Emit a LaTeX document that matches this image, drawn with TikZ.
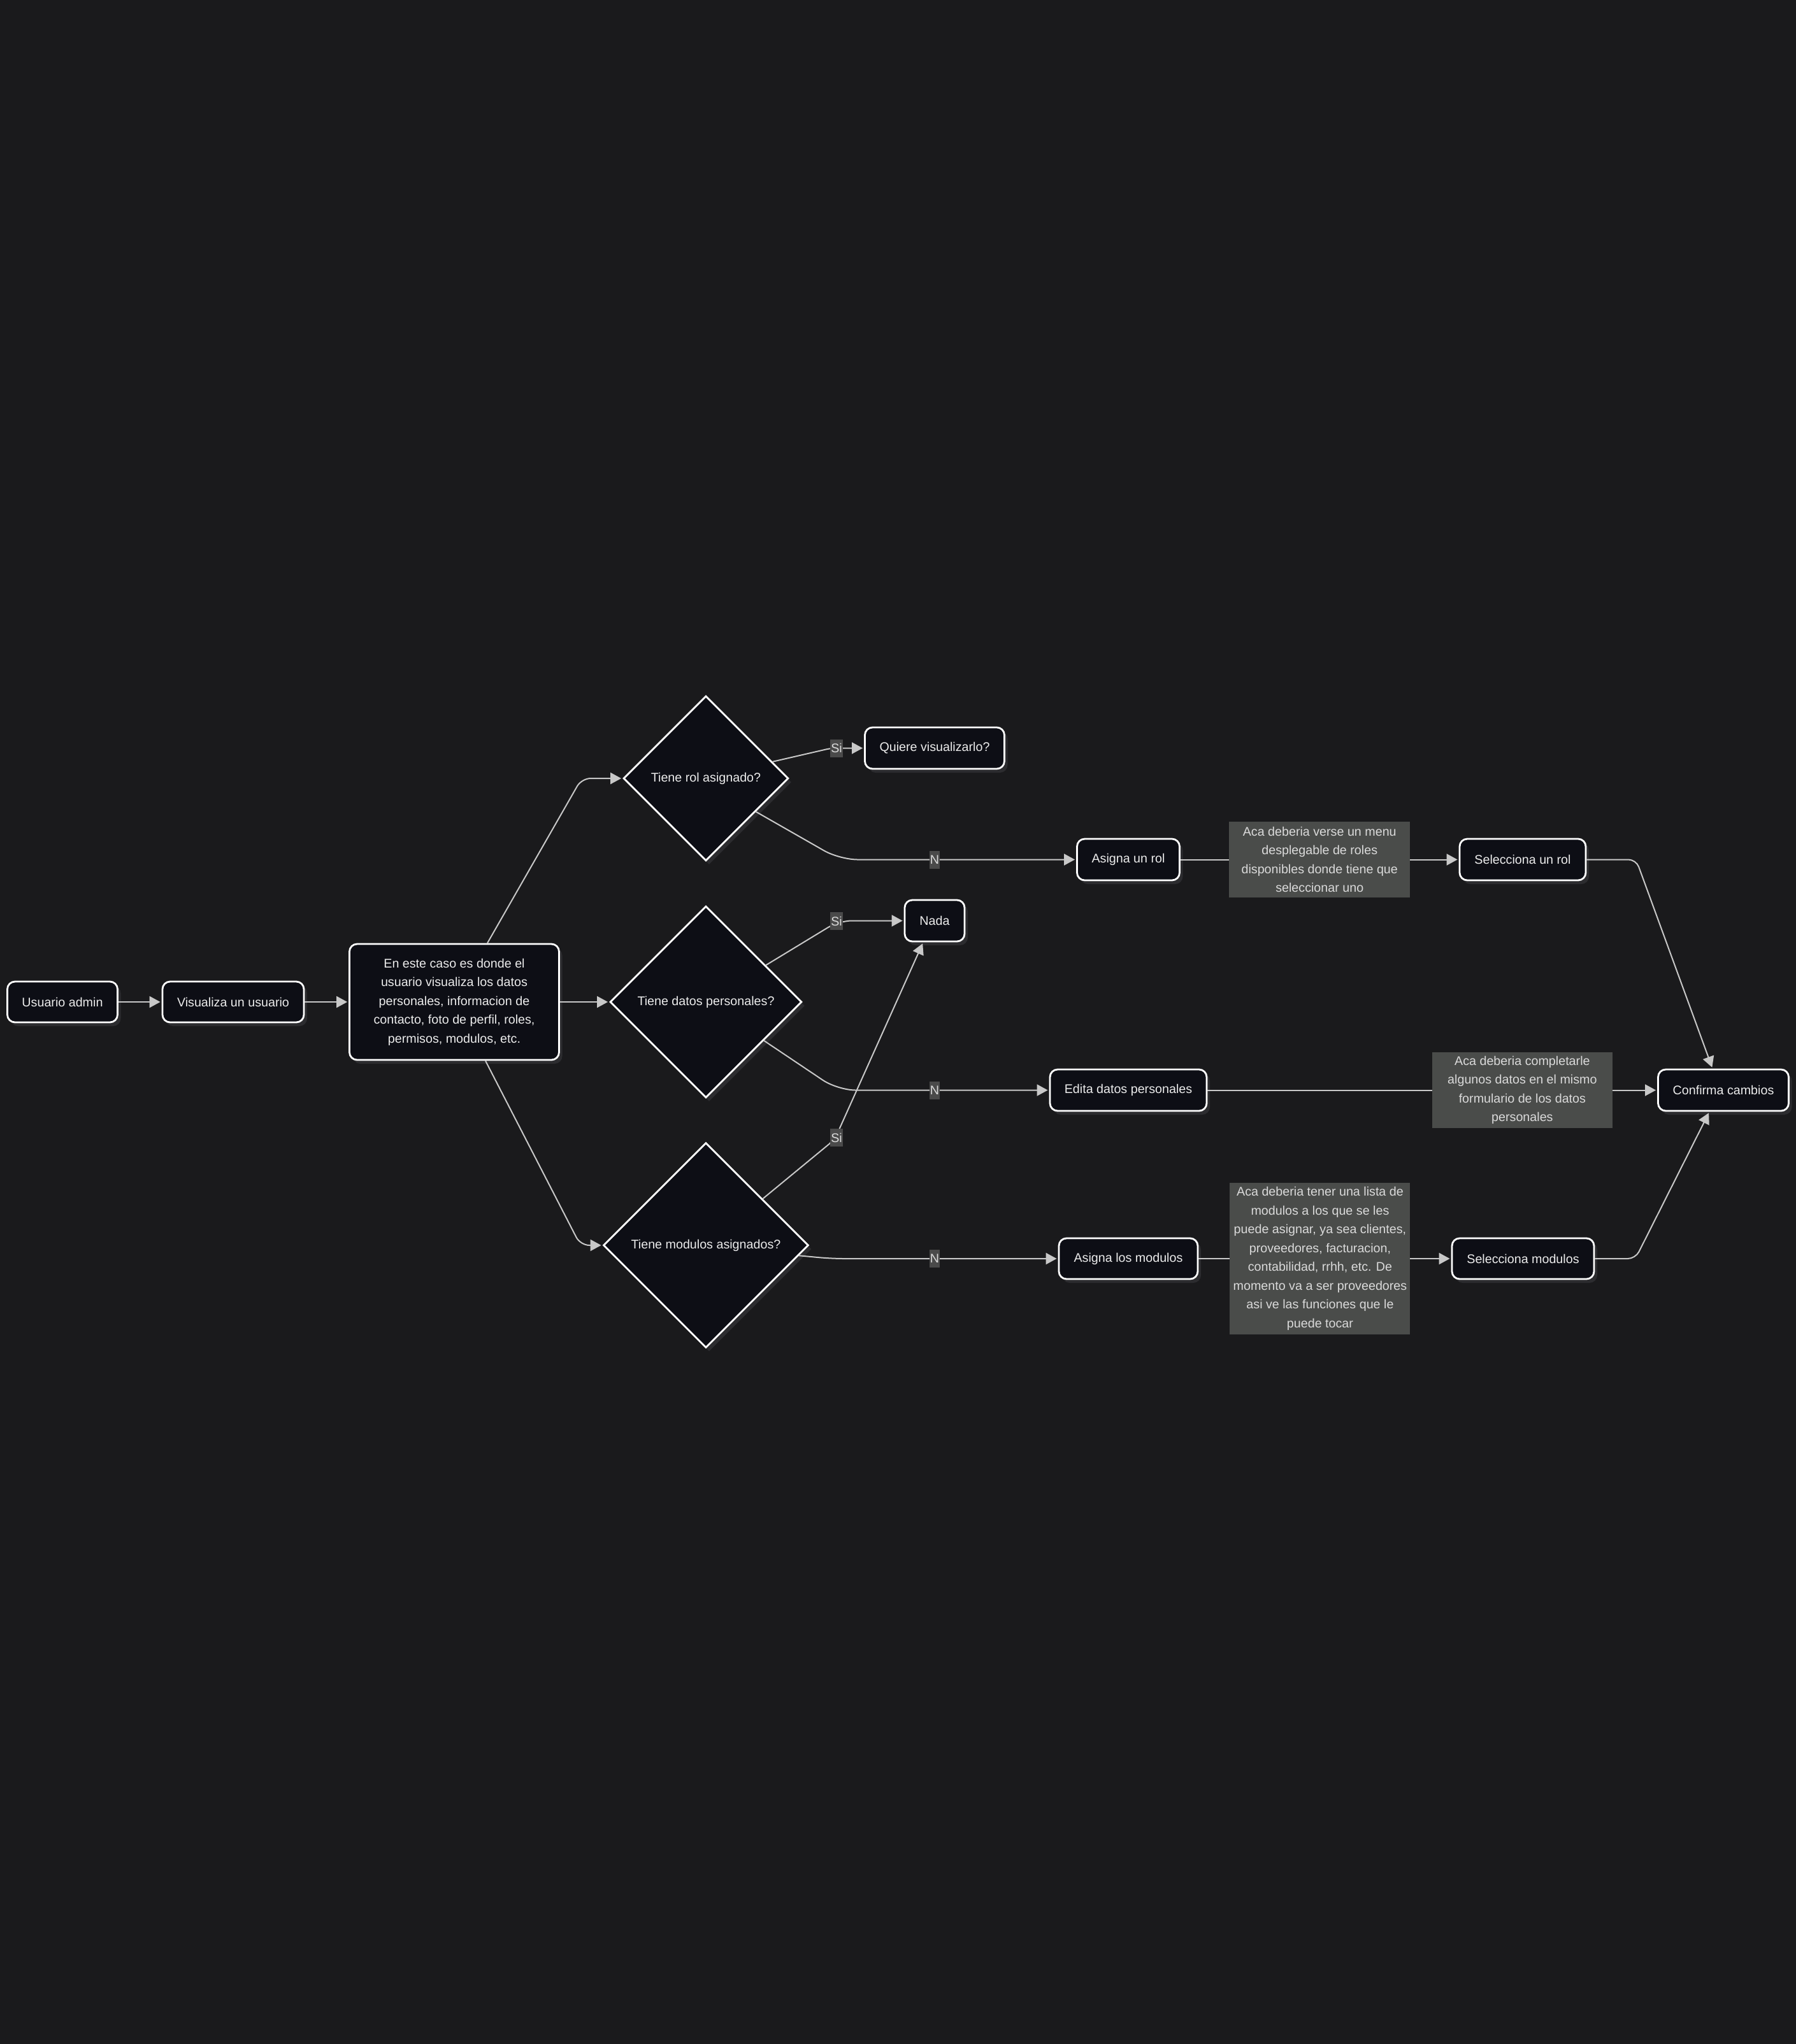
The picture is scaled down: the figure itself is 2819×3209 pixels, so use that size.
\documentclass[tikz,border=0pt]{standalone}
\usepackage{fontspec}
\setmainfont{Liberation Sans}
\usetikzlibrary{shapes.geometric,arrows.meta,shadows,calc}
\definecolor{bgc}{RGB}{26,26,28}
\definecolor{nodefill}{RGB}{13,14,21}
\definecolor{nodetext}{RGB}{236,236,236}
\definecolor{notetext}{RGB}{218,218,218}
\definecolor{edgec}{RGB}{200,200,200}
\definecolor{lblfill}{RGB}{74,74,74}
\definecolor{notefill}{RGB}{74,76,74}
\definecolor{shadowc}{RGB}{44,44,47}
\newcommand\myfont{\fontsize{9.85pt}{14.75pt}\selectfont}
\begin{document}
\begin{tikzpicture}[x=0.5pt,y=-0.5pt,
  box/.style={draw=white, line width=1.4pt, fill=nodefill, rounded corners=6pt, inner sep=0pt,
    align=center, text=nodetext, font=\myfont,
    general shadow={fill=shadowc, shadow xshift=2.5pt, shadow yshift=-3pt}},
  dec/.style={diamond, aspect=1, draw=white, line width=1.4pt, fill=nodefill, inner sep=0pt,
    align=center, text=nodetext, font=\myfont,
    general shadow={fill=shadowc, shadow xshift=2.5pt, shadow yshift=-3pt}},
  note/.style={fill=notefill, inner sep=0pt, align=center, text=notetext, font=\myfont},
  lbl/.style={fill=lblfill, inner xsep=0.4pt, inner ysep=0pt, minimum height=14pt, text=notetext, font=\myfont},
  conn/.style={draw=edgec, line width=1pt, -{Triangle[length=8.5pt,width=9pt]}, shorten >=1pt}
]
\useasboundingbox (0,0) rectangle (2819,3209);
\fill[bgc] (0,0) rectangle (2819,3209);

% nodes
\node[box, minimum width=86.5pt, minimum height=32pt] (ua) at (98,1573) {Usuario admin};
\node[box, minimum width=111pt, minimum height=32pt] (vu) at (366,1573) {Visualiza un usuario};
\node[box, minimum width=164.5pt, minimum height=91pt] (big) at (713,1573)
  {En este caso es donde el\\usuario visualiza los datos\\personales, informacion de\\contacto, foto de perfil, roles,\\permisos, modulos, etc.};
\node[dec, minimum width=129.5pt, minimum height=129.5pt] (d1) at (1108,1222) {Tiene rol asignado?};
\node[dec, minimum width=150.5pt, minimum height=150.5pt] (d2) at (1108,1573) {Tiene datos personales?};
\node[dec, minimum width=161pt, minimum height=161pt] (d3) at (1108,1955) {Tiene modulos asignados?};
\node[box, minimum width=109.5pt, minimum height=32.5pt] (qv) at (1467,1174.5) {Quiere visualizarlo?};
\node[box, minimum width=47pt, minimum height=32.5pt] (nada) at (1467,1445.5) {Nada};
\node[box, minimum width=80.5pt, minimum height=32.5pt] (ar) at (1771,1349.5) {Asigna un rol};
\node[box, minimum width=99pt, minimum height=32.5pt] (sr) at (2390,1349.5) {Selecciona un rol};
\node[box, minimum width=123pt, minimum height=32.5pt] (ed) at (1771,1711.5) {Edita datos personales};
\node[box, minimum width=102.5pt, minimum height=32.5pt] (cc) at (2705,1711.5) {Confirma cambios};
\node[box, minimum width=109pt, minimum height=32pt] (am) at (1771,1976) {Asigna los modulos};
\node[box, minimum width=111.5pt, minimum height=32pt] (sm) at (2390.5,1976) {Selecciona modulos};

% bend points
\coordinate (c1) at (913,1222);
\coordinate (c2) at (911,1955);
\coordinate (c3) at (1305,1174.5);
\coordinate (c4) at (1318,1349.5);
\coordinate (c5) at (1317,1445.5);
\coordinate (c6) at (1315,1711.5);
\coordinate (c7) at (1310,1789);
\coordinate (c8) at (1305,1976);
\coordinate (c9) at (2568,1349.5);
\coordinate (c10) at (2567,1976);

% connectors
\draw[conn] (ua) -- (vu);
\draw[conn] (vu) -- (big);
\draw[conn] (big) -- (d2);
\draw[conn, rounded corners=7pt] ($(big.north)+(52,0)$) -- (c1) -- (d1.west);
\draw[conn, rounded corners=7pt] ($(big.south)+(49,0)$) -- (c2) -- (d3.west);
\draw[conn, rounded corners=4pt] ($(d1.east)!0.2!(d1.north)$) -- (c3) -- (qv.west);
\draw[conn, rounded corners=14pt] ($(d1.east)!0.4!(d1.south)$) -- (c4) -- (ar.west);
\draw[conn, rounded corners=10pt] ($(d2.east)!0.38!(d2.north)$) -- (c5) -- (nada.west);
\draw[conn, rounded corners=14pt] ($(d2.east)!0.4!(d2.south)$) -- (c6) -- (ed.west);
\draw[conn, rounded corners=6pt] ($(d3.east)!0.45!(d3.north)$) -- (c7) -- ($(nada.south)+(-18,0)$);
\draw[conn, rounded corners=10pt] ($(d3.east)!0.1!(d3.south)$) -- (c8) -- (am.west);
\draw[conn] (ar) -- node[note, minimum width=142pt, minimum height=59.5pt] (n1)
  {Aca deberia verse un menu\\desplegable de roles\\disponibles donde tiene que\\seleccionar uno} (sr);
\draw[conn] (ed) -- node[note, pos=0.70, minimum width=141.5pt, minimum height=59.5pt] (n2)
  {Aca deberia completarle\\algunos datos en el mismo\\formulario de los datos\\personales} (cc);
\draw[conn] (am) -- node[note, pos=0.481, minimum width=141.5pt, minimum height=119pt] (n3)
  {Aca deberia tener una lista de\\modulos a los que se les\\puede asignar, ya sea clientes,\\proveedores, facturacion,\\contabilidad, rrhh, etc. De\\momento va a ser proveedores\\asi ve las funciones que le\\puede tocar} (sm);
\draw[conn, rounded corners=6pt] (sr.east) -- (c9) -- ($(cc.north)+(-17,0)$);
\draw[conn, rounded corners=6pt] (sm.east) -- (c10) -- ($(cc.south)+(-22,0)$);

% edge labels
\node[lbl] (l1) at (1313,1174.5) {Si};
\node[lbl] (l2) at (1467,1349.5) {N};
\node[lbl] (l3) at (1313,1446) {Si};
\node[lbl] (l4) at (1467,1712) {N};
\node[lbl] (l5) at (1313,1786) {Si};
\node[lbl] (l6) at (1467,1976) {N};
\end{tikzpicture}
\end{document}
